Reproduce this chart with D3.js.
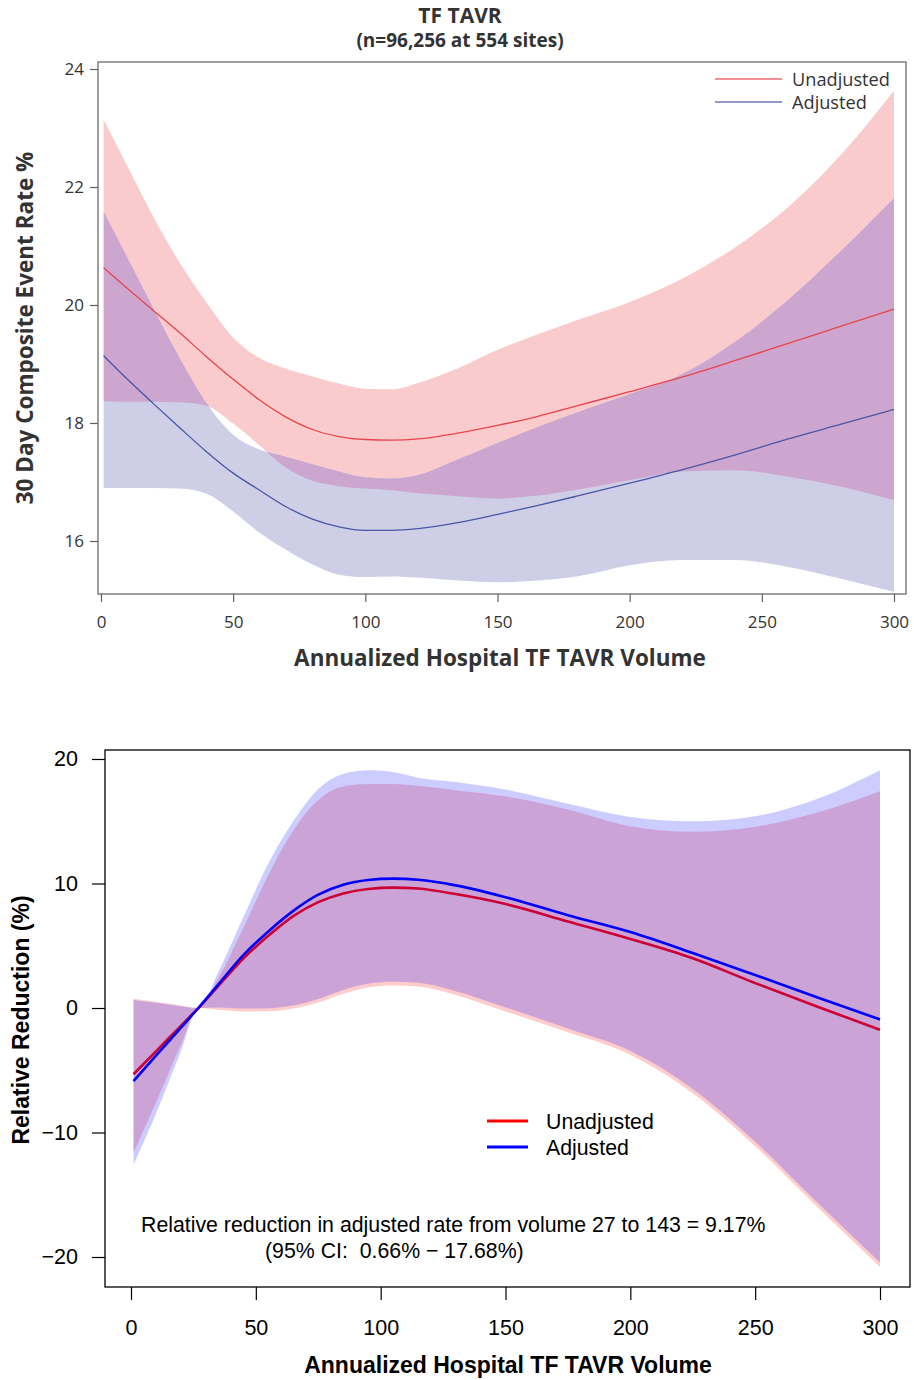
<!DOCTYPE html>
<html>
<head>
<meta charset="utf-8">
<script src="https://cdn.jsdelivr.net/npm/d3@7"></script>
<style>
  html, body { margin: 0; padding: 0; background: #fff; }
  svg { display: block; }
</style>
</head>
<body>
<svg id="chart" width="914" height="1380"></svg>
<script>
// ---------------- DATA: top panel (TF TAVR composite event rate) ----------------
const volTop = [1,10,20,30,40,50,60,70,80,90,100,110,120,135,150,165,180,200,220,240,260,280,300];
const unadjRate  = [20.63,20.28,19.90,19.52,19.12,18.74,18.39,18.10,17.89,17.77,17.72,17.71,17.73,17.83,17.96,18.11,18.29,18.53,18.78,19.06,19.35,19.64,19.93];
const unadjUpper = [23.14,22.35,21.48,20.70,20.04,19.45,19.10,18.92,18.79,18.67,18.58,18.57,18.68,18.93,19.24,19.50,19.74,20.05,20.45,20.98,21.66,22.55,23.63];
const unadjLower = [18.37,18.36,18.36,18.35,18.29,17.99,17.62,17.24,17.02,16.93,16.89,16.86,16.81,16.76,16.72,16.77,16.87,17.03,17.18,17.20,17.09,16.92,16.69];
const adjRate    = [19.14,18.74,18.32,17.91,17.51,17.15,16.86,16.58,16.37,16.24,16.18,16.18,16.21,16.31,16.45,16.60,16.76,16.98,17.21,17.46,17.73,17.98,18.23];
const adjUpper   = [21.58,20.80,19.93,19.08,18.33,17.80,17.55,17.43,17.30,17.18,17.08,17.06,17.12,17.38,17.66,17.93,18.18,18.49,18.83,19.38,20.09,20.92,21.81];
const adjLower   = [16.90,16.90,16.90,16.89,16.80,16.50,16.14,15.85,15.60,15.43,15.39,15.40,15.38,15.33,15.30,15.33,15.40,15.59,15.68,15.68,15.56,15.36,15.14];
const topXTicks = [0,50,100,150,200,250,300];
const topYTicks = [16,18,20,22,24];

// ---------------- DATA: bottom panel (relative reduction vs volume 27) ----------------
const volBot = [1,10,20,27,35,45,55,65,75,85,95,105,115,130,150,175,200,225,250,275,300];
const unadjRR   = [-5.32,-3.48,-1.43,0,1.77,3.97,5.80,7.38,8.50,9.20,9.56,9.67,9.60,9.15,8.35,6.95,5.55,4.00,2.00,0.10,-1.75];
const unadjRRHi = [0.75,0.50,0.20,0,2.40,6.45,10.68,14.25,16.70,17.80,18.00,18.00,17.85,17.50,17.00,15.95,14.60,14.15,14.55,15.70,17.40];
const unadjRRLo = [-11.65,-7.60,-2.95,0,-0.15,-0.28,-0.27,-0.05,0.45,1.15,1.65,1.80,1.72,1.05,-0.28,-1.95,-3.75,-6.85,-11.10,-16.00,-20.80];
const adjRR     = [-5.87,-3.83,-1.58,0,1.90,4.25,6.15,7.80,9.10,9.90,10.28,10.39,10.30,9.85,8.90,7.45,6.10,4.42,2.65,0.85,-0.92];
const adjRRHi   = [0.65,0.42,0.15,0,2.90,7.30,11.60,15.00,17.60,18.80,19.10,18.95,18.50,18.15,17.55,16.40,15.35,15.00,15.40,16.80,19.10];
const adjRRLo   = [-12.60,-8.50,-3.45,0,0.05,-0.05,-0.02,0.20,0.72,1.45,1.95,2.10,2.02,1.35,0.05,-1.65,-3.45,-6.50,-10.75,-15.65,-20.45];
const botXTicks = [0,50,100,150,200,250,300];
const botYTicks = [-20,-10,0,10,20];

const seriesNames = ["Unadjusted","Adjusted"];

// ---------------- DRAWING ----------------
const svg = d3.select("#chart");

// ===== TOP PANEL =====
(function(){
  const F = "'Open Sans', 'Noto Sans', sans-serif";
  const frame = {l:98, r:906, t:62, b:594};
  const x = d3.scaleLinear().domain([0,300]).range([101,894]);
  const y = d3.scaleLinear().domain([16,24]).range([541,69]);
  const g = svg.append("g");

  const rows = volTop.map((v,i)=>({v, ur:unadjRate[i], uu:unadjUpper[i], ul:unadjLower[i],
                                    ar:adjRate[i], au:adjUpper[i], al:adjLower[i]}));
  const curve = d3.curveMonotoneX;
  const areaU = d3.area().curve(curve).x(d=>x(d.v)).y0(d=>y(d.ul)).y1(d=>y(d.uu));
  const areaA = d3.area().curve(curve).x(d=>x(d.v)).y0(d=>y(d.al)).y1(d=>y(d.au));
  const lineU = d3.line().curve(curve).x(d=>x(d.v)).y(d=>y(d.ur));
  const lineA = d3.line().curve(curve).x(d=>x(d.v)).y(d=>y(d.ar));

  const defs = svg.append("defs");
  defs.append("clipPath").attr("id","clipRedBand").append("path").attr("d", areaU(rows));

  g.append("path").attr("d", areaU(rows)).attr("fill","#f9cbcd");
  g.append("path").attr("d", areaA(rows)).attr("fill","#cecfe6");
  g.append("path").attr("d", areaA(rows)).attr("fill","#cca6ce").attr("clip-path","url(#clipRedBand)");
  g.append("path").attr("d", lineU(rows)).attr("fill","none").attr("stroke","#e8444c").attr("stroke-width",1.3);
  g.append("path").attr("d", lineA(rows)).attr("fill","none").attr("stroke","#4a56a6").attr("stroke-width",1.3);

  // frame
  g.append("rect").attr("x",frame.l).attr("y",frame.t).attr("width",frame.r-frame.l).attr("height",frame.b-frame.t)
    .attr("fill","none").attr("stroke","#5f5f5f").attr("stroke-width",1.2);

  // y axis
  const ya = g.append("g").attr("transform",`translate(${frame.l},0)`)
    .call(d3.axisLeft(y).tickValues(topYTicks).tickSize(8).tickPadding(6).tickFormat(d3.format("d")));
  ya.select(".domain").remove();
  ya.selectAll("line").attr("stroke","#5f5f5f").attr("stroke-width",1.2);
  ya.selectAll("text").attr("font-family",F).attr("font-size",17).attr("fill","#333");

  // x axis
  const xa = g.append("g").attr("transform",`translate(0,${frame.b})`)
    .call(d3.axisBottom(x).tickValues(topXTicks).tickSize(8).tickPadding(14).tickFormat(d3.format("d")));
  xa.select(".domain").remove();
  xa.selectAll("line").attr("stroke","#5f5f5f").attr("stroke-width",1.2);
  xa.selectAll("text").attr("font-family",F).attr("font-size",17).attr("fill","#333");

  // titles
  g.append("text").attr("x",460).attr("y",23).attr("text-anchor","middle").attr("font-family",F)
    .attr("font-weight","bold").attr("font-size",21).attr("fill","#333").text("TF TAVR");
  g.append("text").attr("x",460).attr("y",47).attr("text-anchor","middle").attr("font-family",F)
    .attr("font-weight","bold").attr("font-size",19).attr("fill","#333").text("(n=96,256 at 554 sites)");
  g.append("text").attr("x",500).attr("y",666).attr("text-anchor","middle").attr("font-family",F)
    .attr("font-weight","bold").attr("font-size",22.5).attr("fill","#333").text("Annualized Hospital TF TAVR Volume");
  g.append("text").attr("transform","translate(33,328) rotate(-90)").attr("text-anchor","middle").attr("font-family",F)
    .attr("font-weight","bold").attr("font-size",22.5).attr("fill","#333").text("30 Day Composite Event Rate %");

  // legend
  const lg = g.append("g");
  const lcol = ["#ef6b70","#6c78bb"];
  seriesNames.forEach((s,i)=>{
    const yy = 79 + i*23;
    lg.append("line").attr("x1",715).attr("x2",782).attr("y1",yy).attr("y2",yy)
      .attr("stroke",lcol[i]).attr("stroke-width",1.5);
    lg.append("text").attr("x",792).attr("y",yy+6.5).attr("font-family",F).attr("font-size",18.2)
      .attr("fill","#333").text(s);
  });
})();

// ===== BOTTOM PANEL =====
(function(){
  const F = "'Liberation Sans', Arial, sans-serif";
  const frame = {l:105, r:910, t:750, b:1287};
  const x = d3.scaleLinear().domain([0,300]).range([131,880]);
  const y = d3.scaleLinear().domain([-20,20]).range([1257,759]);
  const g = svg.append("g");
  const rows = volBot.map((v,i)=>({v, ur:unadjRR[i], uh:unadjRRHi[i], ul:unadjRRLo[i],
                                    ar:adjRR[i], ah:adjRRHi[i], al:adjRRLo[i]}));
  const curve = d3.curveMonotoneX;
  const areaU = d3.area().curve(curve).x(d=>x(d.v)).y0(d=>y(d.ul)).y1(d=>y(d.uh));
  const areaA = d3.area().curve(curve).x(d=>x(d.v)).y0(d=>y(d.al)).y1(d=>y(d.ah));
  const lineU = d3.line().curve(curve).x(d=>x(d.v)).y(d=>y(d.ur));
  const lineA = d3.line().curve(curve).x(d=>x(d.v)).y(d=>y(d.ar));

  g.append("path").attr("d", areaU(rows)).attr("fill","rgba(255,0,0,0.2)");
  g.append("path").attr("d", lineU(rows)).attr("fill","none").attr("stroke","#ff0000").attr("stroke-width",2.6);
  g.append("path").attr("d", areaA(rows)).attr("fill","rgba(0,0,255,0.2)");
  g.append("path").attr("d", lineA(rows)).attr("fill","none").attr("stroke","#0000ff").attr("stroke-width",2.6);

  g.append("rect").attr("x",frame.l).attr("y",frame.t).attr("width",frame.r-frame.l).attr("height",frame.b-frame.t)
    .attr("fill","none").attr("stroke","#000").attr("stroke-width",1.3);

  const ya = g.append("g").attr("transform",`translate(${frame.l},0)`)
    .call(d3.axisLeft(y).tickValues(botYTicks).tickSize(13).tickPadding(14).tickFormat(d=> d<0 ? "\u2212"+Math.abs(d) : d));
  ya.select(".domain").remove();
  ya.selectAll("line").attr("stroke","#000").attr("stroke-width",1.2);
  ya.selectAll("text").attr("font-family",F).attr("font-size",21.5).attr("fill","#000");

  const xa = g.append("g").attr("transform",`translate(0,${frame.b})`)
    .call(d3.axisBottom(x).tickValues(botXTicks).tickSize(13).tickPadding(20).tickFormat(d3.format("d")));
  xa.select(".domain").remove();
  xa.selectAll("line").attr("stroke","#000").attr("stroke-width",1.2);
  xa.selectAll("text").attr("font-family",F).attr("font-size",21.5).attr("fill","#000");

  g.append("text").attr("x",508).attr("y",1373).attr("text-anchor","middle").attr("font-family",F)
    .attr("font-weight","bold").attr("font-size",23).attr("fill","#000").text("Annualized Hospital TF TAVR Volume");
  g.append("text").attr("transform","translate(29,1020) rotate(-90)").attr("text-anchor","middle").attr("font-family",F)
    .attr("font-weight","bold").attr("font-size",23).attr("fill","#000").text("Relative Reduction (%)");

  const lcol = ["#ff0000","#0000ff"];
  seriesNames.forEach((s,i)=>{
    const yy = 1121 + i*26;
    g.append("line").attr("x1",487).attr("x2",528).attr("y1",yy).attr("y2",yy)
      .attr("stroke",lcol[i]).attr("stroke-width",3);
    g.append("text").attr("x",546).attr("y",yy+7.5).attr("font-family",F).attr("font-size",21.3)
      .attr("fill","#000").text(s);
  });

  g.append("text").attr("x",141).attr("y",1231.5).attr("font-family",F).attr("font-size",21.3).attr("fill","#000")
    .text("Relative reduction in adjusted rate from volume 27 to 143 = 9.17%");
  g.append("text").attr("x",265).attr("y",1257.5).attr("font-family",F).attr("font-size",21.3).attr("fill","#000")
    .attr("xml:space","preserve").style("white-space","pre")
    .text("(95% CI:  0.66% \u2212 17.68%)");
})();
</script>
</body>
</html>
